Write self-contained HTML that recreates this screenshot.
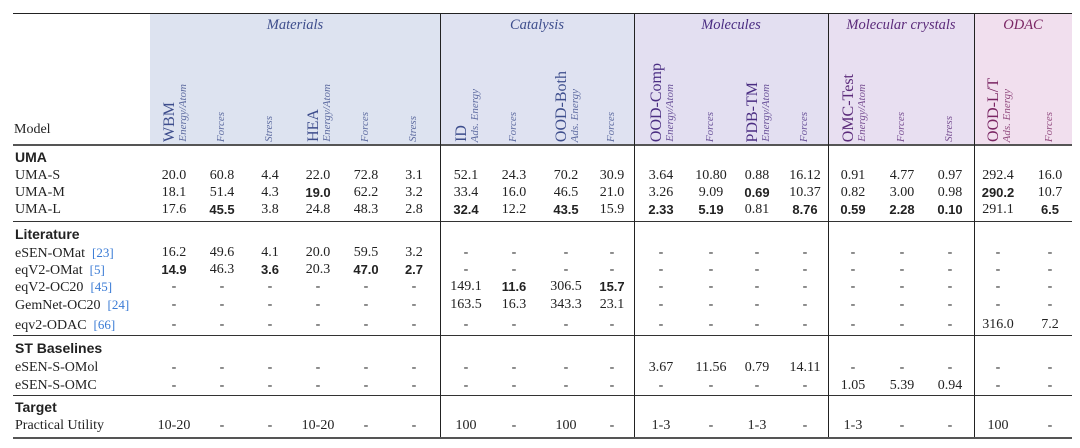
<!DOCTYPE html>
<html><head><meta charset="utf-8">
<style>
body{margin:0;width:1080px;height:448px;background:#fff;position:relative;overflow:hidden;font-family:"Liberation Serif",serif;color:#222}
.a{position:absolute;white-space:nowrap}
.v{position:absolute;writing-mode:vertical-rl;transform:rotate(180deg);white-space:nowrap;line-height:1}
.c{position:absolute;text-align:center;width:60px;font-size:14px;line-height:16px}
.b{font-family:"Liberation Sans",sans-serif;font-weight:bold;font-size:13px}
.sec{font-family:"Liberation Sans",sans-serif;font-weight:bold;font-size:14px;line-height:16px}
.hl{position:absolute;left:13px;width:1059px;background:#333}
.vl{position:absolute;width:1px;background:#222}
.ref{color:#3a7bd5;font-size:13px}
</style></head><body>
<div class="a" style="left:13px;top:13px;width:1059px;height:1px;background:#222"></div>
<div id="tbl"></div>
<script>
const groups=[["Materials",150,440,"#dde3f0","#3d4d8c"],["Catalysis",440,634,"#dfe2f1","#3d4d8c"],["Molecules",634,828,"#e3dff1","#4a2d82"],["Molecular crystals",828,974,"#e8dff1","#5b2a7a"],["ODAC",974,1072,"#f1dfee","#7a2563"]];
const colX=[174,222,270,318,366,414,466,514,566,612,661,711,757,805,853,902,950,998,1050];
const colName=[["WBM","Energy/Atom"],["","Forces"],["","Stress"],["HEA","Energy/Atom"],["","Forces"],["","Stress"],["ID","Ads. Energy"],["","Forces"],["OOD-Both","Ads. Energy"],["","Forces"],["OOD-Comp","Energy/Atom"],["","Forces"],["PDB-TM","Energy/Atom"],["","Forces"],["OMC-Test","Energy/Atom"],["","Forces"],["","Stress"],["OOD-L/T","Ads. Energy"],["","Forces"]];
const colGroup=[0,0,0,0,0,0,1,1,1,1,2,2,2,2,3,3,3,4,4];
const D="-";
const rows=[
["sec","UMA",157],
["UMA-S","",176,["20.0","60.8","4.4","22.0","72.8","3.1","52.1","24.3","70.2","30.9","3.64","10.80","0.88","16.12","0.91","4.77","0.97","292.4","16.0"]],
["UMA-M","",193,["18.1","51.4","4.3","*19.0","62.2","3.2","33.4","16.0","46.5","21.0","3.26","9.09","*0.69","10.37","0.82","3.00","0.98","*290.2","10.7"]],
["UMA-L","",210,["17.6","*45.5","3.8","24.8","48.3","2.8","*32.4","12.2","*43.5","15.9","*2.33","*5.19","0.81","*8.76","*0.59","*2.28","*0.10","291.1","*6.5"]],
["sec","Literature",234],
["eSEN-OMat","23",253,["16.2","49.6","4.1","20.0","59.5","3.2",D,D,D,D,D,D,D,D,D,D,D,D,D]],
["eqV2-OMat","5",270,["*14.9","46.3","*3.6","20.3","*47.0","*2.7",D,D,D,D,D,D,D,D,D,D,D,D,D]],
["eqV2-OC20","45",287,[D,D,D,D,D,D,"149.1","*11.6","306.5","*15.7",D,D,D,D,D,D,D,D,D]],
["GemNet-OC20","24",305,[D,D,D,D,D,D,"163.5","16.3","343.3","23.1",D,D,D,D,D,D,D,D,D]],
["eqv2-ODAC","66",325,[D,D,D,D,D,D,D,D,D,D,D,D,D,D,D,D,D,"316.0","7.2"]],
["sec","ST Baselines",348],
["eSEN-S-OMol","",368,[D,D,D,D,D,D,D,D,D,D,"3.67","11.56","0.79","14.11",D,D,D,D,D]],
["eSEN-S-OMC","",386,[D,D,D,D,D,D,D,D,D,D,D,D,D,D,"1.05","5.39","0.94",D,D]],
["sec","Target",407],
["Practical Utility","",426,["10-20",D,D,"10-20",D,D,"100",D,"100",D,"1-3",D,"1-3",D,"1-3",D,D,"100",D]]
];
const hRules=[[144,2],[221,1],[335,1],[395,1],[437,2]];
const vLines=[440,634,828,974];
const T=document.getElementById('tbl');
function add(html,cls,style){const e=document.createElement('div');e.className=cls;e.style.cssText=style;e.innerHTML=html;T.appendChild(e);return e;}
groups.forEach(g=>{
 const bg=add('','a',`left:${g[1]}px;top:14px;width:${g[2]-g[1]}px;height:130px;background:${g[3]}`);
 
 
 const t=add(g[0],'a',`left:${g[1]}px;top:17px;width:${g[2]-g[1]}px;text-align:center;font-style:italic;font-size:14.5px;color:${g[4]}`);
 
 
});
const ml=add('Model','a','left:14px;top:122px;font-size:14px');


colName.forEach((n,i)=>{
 const col=groups[colGroup[i]][4];
 if(n[0]){const e=add(n[0],'v',`left:${colX[i]-12}px;bottom:${448-142}px;font-size:16px;color:${col}`);
  
  }
 const s=add(n[1],'v',`left:${colX[i]+(n[0]?4:-6)}px;bottom:${448-142}px;font-size:11px;font-style:italic;color:${col};opacity:.8`);
 
 
});
hRules.forEach(r=>{const e=add('','hl',`top:${r[0]}px;height:${r[1]}px;background:${r[1]>1?'#555':'#333'}`);
 
 });
vLines.forEach(x=>{const e=add('','vl',`left:${x}px;top:14px;height:423px`);
 
 });
rows.forEach(r=>{
 if(r[0]==="sec"){const e=add(r[1],'a sec',`left:15px;top:${r[2]-8}px`);
  
  return;}
 const lab=add(r[0]+(r[1]?` &nbsp;<span class="ref">[${r[1]}]</span>`:''),'a',`left:15px;top:${r[2]-8}px;font-size:14px;line-height:16px`);
 
 
 r[3].forEach((v,i)=>{const bold=v[0]==='*';const txt=bold?v.slice(1):v;
  const e=add(txt,'c'+(bold?' b':''),`left:${colX[i]-30}px;top:${r[2]-8}px`);
  
  });
});
</script>
</body></html>
